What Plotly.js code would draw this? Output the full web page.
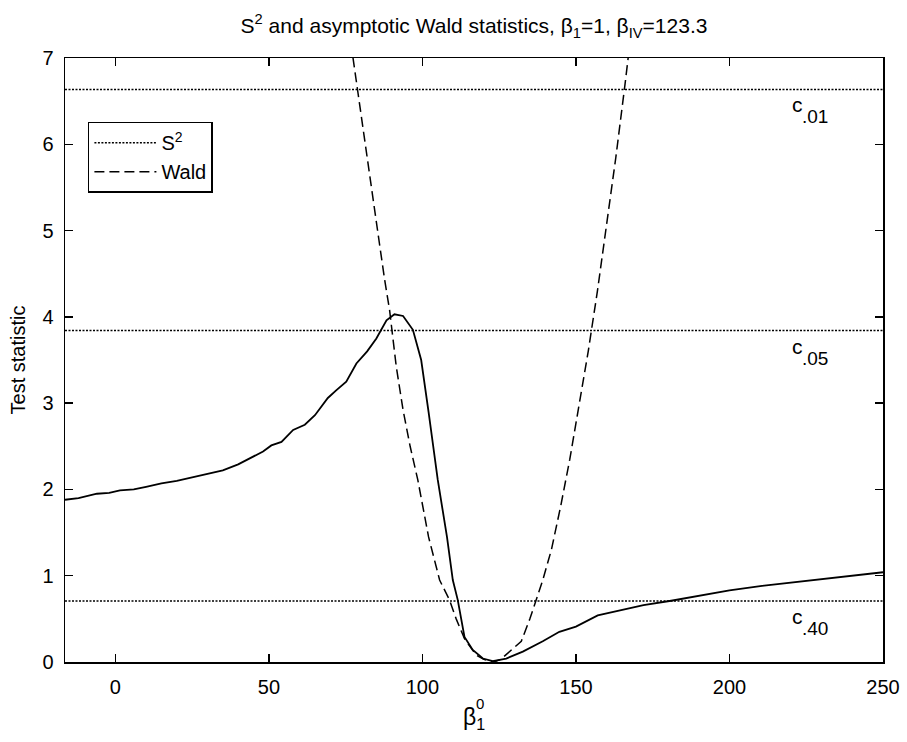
<!DOCTYPE html>
<html>
<head>
<meta charset="utf-8">
<script src="https://cdn.plot.ly/plotly-3.0.1.min.js"></script>
<style>html,body{margin:0;padding:0;background:#fff;}#chart{width:907px;height:742px;}</style>
</head>
<body>
<div id="chart"></div>
<script>
// ---- data ----
const xRange = [-16.4, 250];
const yRange = [0, 7];

const s2X = [-16.4, -12, -6, -2, 1.5, 6, 10, 15, 20, 25, 30, 35, 40, 43.8, 48.1, 50.8, 54.1, 57.9, 61.7, 65, 69.2, 72, 75.2, 78.5, 82, 85, 88.3, 90.9, 93.7, 96.9, 99.6, 102, 105, 108, 109.9, 111.5, 113.7, 116.4, 119.7, 122.9, 127.3, 132.7, 139.2, 144.6, 150, 157.1, 165, 172, 181, 190, 200, 210, 220, 230, 240, 250];
const s2Y = [1.88, 1.90, 1.95, 1.96, 1.99, 2.0, 2.03, 2.07, 2.1, 2.14, 2.18, 2.22, 2.29, 2.36, 2.44, 2.51, 2.55, 2.69, 2.75, 2.86, 3.06, 3.15, 3.25, 3.46, 3.6, 3.75, 3.96, 4.03, 4.01, 3.85, 3.50, 2.9, 2.11, 1.45, 0.95, 0.72, 0.29, 0.14, 0.04, 0.01, 0.04, 0.12, 0.24, 0.35, 0.41, 0.54, 0.6, 0.66, 0.71, 0.77, 0.83, 0.88, 0.92, 0.96, 1.0, 1.04];

const waldX = [76, 77.3, 79, 81, 83.5, 86, 87.7, 89.3, 91.5, 93.7, 96, 98.5, 102, 105.6, 108.8, 111, 113.7, 117.5, 120, 123.3, 125.5, 128.4, 132.2, 135, 137.1, 139.2, 142, 145, 148, 151, 154, 157, 160, 163, 166, 168];
const waldY = [7.35, 7.0, 6.6, 6.1, 5.5, 4.85, 4.43, 4.08, 3.42, 2.92, 2.5, 2.11, 1.45, 0.95, 0.72, 0.5, 0.27, 0.08, 0.03, 0.0, 0.03, 0.12, 0.24, 0.5, 0.72, 0.95, 1.3, 1.8, 2.35, 2.95, 3.6, 4.3, 5.05, 5.85, 6.7, 7.3];

const critValues = [6.635, 3.841, 0.708];
const critLabels = [".01", ".05", ".40"];

const xTicks = [0, 50, 100, 150, 200, 250];
const yTicks = [0, 1, 2, 3, 4, 5, 6, 7];

// ---- build ----
const FONT = "Liberation Sans, Arial, Helvetica, sans-serif";
const critX = [], critY = [];
critValues.forEach(v => { critX.push(xRange[0], xRange[1], null); critY.push(v, v, null); });

const traces = [
  { x: critX, y: critY, mode: "lines", name: "S<sup>2</sup>",
    line: { color: "black", width: 1.5, dash: "2px,1.5px" }, hoverinfo: "skip" },
  { x: waldX, y: waldY, mode: "lines", name: "Wald",
    line: { color: "black", width: 1.5, dash: "10px,5px" } },
  { x: s2X, y: s2Y, mode: "lines", name: "S2 curve", showlegend: false,
    line: { color: "black", width: 1.8 } }
];

const annotations = [];
critValues.forEach((v, i) => {
  annotations.push({ x: 219.6, y: v, xref: "x", yref: "y", text: "c", showarrow: false,
    xanchor: "left", yanchor: "top", yshift: -2, font: { family: FONT, size: 21, color: "black" } });
  annotations.push({ x: 223, y: v, xref: "x", yref: "y", text: critLabels[i], showarrow: false,
    xanchor: "left", yanchor: "top", yshift: -15, font: { family: FONT, size: 19, color: "black" } });
});
annotations.push({ x: 0.5, y: -0.068, xref: "paper", yref: "paper", text: "0", showarrow: false,
  xanchor: "left", yanchor: "middle", font: { family: FONT, size: 15, color: "black" } });

const axisCommon = {
  showline: true, linecolor: "black", linewidth: 1.5, mirror: "ticks",
  ticks: "inside", ticklen: 8, tickwidth: 1.5, tickcolor: "black",
  showgrid: false, zeroline: false,
  tickfont: { family: FONT, size: 20, color: "black" }
};

const layout = {
  width: 907, height: 742,
  margin: { l: 65, r: 24, t: 58, b: 80 },
  paper_bgcolor: "white", plot_bgcolor: "white",
  font: { family: FONT, color: "black" },
  title: { text: "S<sup>2</sup> and asymptotic Wald statistics, β<sub>1</sub>=1, β<sub>IV</sub>=123.3",
    font: { family: FONT, size: 21, color: "black" }, xref: "paper", x: 0.5, xanchor: "center",
    yref: "container", y: 0.965, yanchor: "middle" },
  xaxis: Object.assign({}, axisCommon, { range: xRange, tickvals: xTicks, ticktext: xTicks.map(String),
    ticklabelstandoff: 6,
    title: { text: "β<sub>1</sub>", font: { family: FONT, size: 23, color: "black" }, standoff: 12 } }),
  yaxis: Object.assign({}, axisCommon, { range: yRange, tickvals: yTicks, ticktext: yTicks.map(String),
    ticklabelstandoff: 6,
    title: { text: "Test statistic", font: { family: FONT, size: 20, color: "black" }, standoff: 11 } }),
  showlegend: true,
  legend: { x: 0.028, y: 0.8946, xanchor: "left", yanchor: "top", bgcolor: "white",
    bordercolor: "black", borderwidth: 1.5, font: { family: FONT, size: 20, color: "black" },
    itemwidth: 62, entrywidth: 95, entrywidthmode: "pixels", tracegroupgap: 0 },
  annotations: annotations
};

Plotly.newPlot("chart", traces, layout, { displayModeBar: false, staticPlot: true });
</script>
</body>
</html>
